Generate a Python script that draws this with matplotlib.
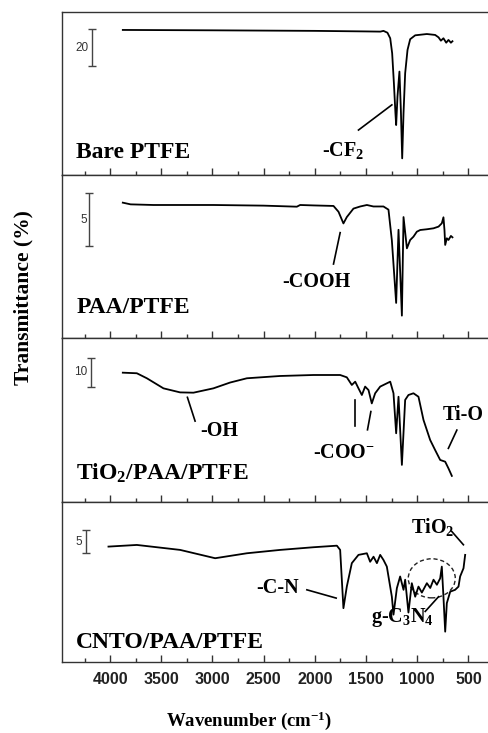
import matplotlib
matplotlib.use('Agg')
import matplotlib.pyplot as plt
from matplotlib.patches import Ellipse
from matplotlib.ticker import MultipleLocator

plt.rcParams['mathtext.fontset'] = 'custom'
plt.rcParams['mathtext.rm'] = 'Liberation Serif:bold'
plt.rcParams['mathtext.bf'] = 'Liberation Serif:bold'
plt.rcParams['mathtext.it'] = 'Liberation Serif:bold:italic'

# ---------------- data (wavenumber cm-1, transmittance %) ----------------
w1 = [3876, 3000, 2000, 1500, 1360, 1330, 1291, 1264, 1245, 1228, 1213, 1206, 1193, 1174,
      1160, 1147, 1134, 1118, 1095, 1069, 1020, 906, 825, 792, 769, 744, 717, 695, 671, 656]
t1 = [95.0, 94.8, 94.5, 94.2, 94.1, 94.5, 93.5, 90.5, 82.4, 66.2, 50.0, 43.6, 59.0, 72.5,
      51.8, 25.6, 50.0, 71.6, 84.2, 90.0, 92.1, 92.8, 92.3, 91.0, 89.2, 90.5, 88.1, 89.6, 88.1, 88.9]

w2 = [3876, 3800, 3577, 2991, 2502, 2176, 2144, 2014, 1818, 1769, 1721, 1688, 1623, 1557,
      1492, 1428, 1330, 1281, 1248, 1206, 1183, 1150, 1134, 1101, 1069, 1037, 1004, 971,
      906, 841, 792, 760, 744, 734, 727, 711, 695, 671, 656]
t2 = [100.06, 99.9, 99.84, 99.84, 99.78, 99.68, 99.84, 99.8, 99.75, 99.2, 98.1, 98.7, 99.5, 99.7,
      99.84, 99.7, 99.7, 99.4, 96.5, 90.6, 97.5, 89.4, 98.7, 95.75, 96.54, 96.85, 97.32, 97.48,
      97.55, 97.64, 97.8, 98.11, 98.68, 97.48, 96.07, 96.7, 96.54, 96.92, 96.79]

w3 = [3876, 3739, 3641, 3479, 3316, 3186, 2991, 2828, 2664, 2339, 2014, 1753, 1688, 1639,
      1606, 1574, 1541, 1509, 1476, 1444, 1411, 1362, 1264, 1232, 1206, 1183, 1150, 1118,
      1086, 1037, 988, 939, 874, 825, 776, 727, 695, 662]
t3 = [100.0, 99.8, 98.07, 94.6, 93.2, 93.1, 94.6, 96.6, 98.07, 98.86, 99.2, 99.2, 98.4, 95.76,
      96.9, 94.6, 92.3, 95.2, 94.0, 89.4, 92.9, 95.2, 96.9, 92.9, 79.1, 91.7, 68.2, 90.6,
      92.3, 92.9, 91.7, 83.7, 76.8, 73.3, 69.9, 69.3, 67.0, 64.4]

w4 = [4016, 3739, 3316, 2974, 2664, 2339, 2014, 1785, 1753, 1721, 1688, 1639, 1574, 1492,
      1460, 1427, 1394, 1362, 1330, 1297, 1248, 1232, 1199, 1167, 1134, 1118, 1086, 1053,
      1020, 988, 955, 906, 873, 841, 808, 776, 760, 744, 727, 711, 678, 630, 597, 581, 548, 532]
t4 = [100.0, 100.36, 99.28, 97.47, 98.55, 99.28, 99.86, 100.2, 99.28, 86.6, 91.3, 96.4, 98.2, 98.55,
      96.7, 97.8, 96.4, 98.2, 97.1, 95.65, 89.1, 85.2, 90.96, 93.5, 90.6, 92.8, 85.65, 92.04,
      89.1, 91.3, 90.0, 92.04, 91.0, 92.8, 91.7, 93.1, 95.65, 89.1, 81.5, 87.7, 90.2, 90.6, 91.3, 93.5, 95.3, 98.2]

waves = [w1, w2, w3, w4]
trans = [t1, t2, t3, t4]
sample_names = ['Bare PTFE', 'PAA/PTFE', r'TiO$_2$/PAA/PTFE', 'CNTO/PAA/PTFE']
scale_values = [20, 5, 10, 5]
scale_label_text = ['20', '5', '10', '5']
xtick_values = [4000, 3500, 3000, 2500, 2000, 1500, 1000, 500]

# ---------------- layout ----------------
W, H = 488, 733
fig = plt.figure(figsize=(W / 100, H / 100), dpi=100)

panel_px = [(12, 175), (175, 338), (338, 502), (502, 662)]
ylims = [(16.6, 104.7), (87.29, 102.67), (55.4, 111.96), (74.9, 109.7)]
left_px, right_px = 62, 493
xlim = (4470, 260)

# scale bar: (x position, top value) ; label x
scale_pos = [(4176, 95.5, 4274), (4205, 100.97, 4254), (4186, 105.07, 4283), (4234, 103.6, 4303)]
label_pos = [(4332, 25.8), (4332, 89.65), (4332, 63.0), (4332, 77.98)]

serif = 'Liberation Serif'
spine_col = '#333333'

axes = []
for i in range(4):
    top, bot = panel_px[i]
    ax = fig.add_axes([left_px / W, 1 - bot / H, (right_px - left_px) / W, (bot - top) / H])
    axes.append(ax)
    ax.plot(waves[i], trans[i], color='black', lw=1.3, solid_joinstyle='round')
    ax.set_xlim(*xlim)
    ax.set_ylim(*ylims[i])
    ax.set_yticks([])
    ax.xaxis.set_major_locator(MultipleLocator(500))
    ax.xaxis.set_minor_locator(MultipleLocator(250))
    ax.tick_params(axis='x', which='major', direction='in', length=5, width=1, color=spine_col, pad=7)
    ax.tick_params(axis='x', which='minor', direction='in', length=3, width=1, color=spine_col)
    for s in ax.spines.values():
        s.set_color(spine_col)
        s.set_linewidth(1.0)
    if i < 3:
        ax.tick_params(axis='x', labelbottom=False)
    else:
        ax.set_xticks(xtick_values)
        ax.set_xticklabels([str(v) for v in xtick_values], fontfamily='Liberation Sans',
                           fontweight='bold', fontsize=11.5, color='#222222')
    # scale bar
    sx, stop, lx = scale_pos[i]
    sv = scale_values[i]
    ax.errorbar([sx], [stop - sv / 2], yerr=[[sv / 2], [sv / 2]], fmt='none', ecolor='#444444',
                elinewidth=1, capsize=3, capthick=1)
    ax.text(lx, stop - sv / 2, scale_label_text[i], ha='center', va='center',
            fontfamily='Liberation Sans', fontsize=8.5, color='#333333')
    # sample label
    ax.text(label_pos[i][0], label_pos[i][1], sample_names[i], ha='left', va='baseline',
            fontfamily=serif, fontweight='bold', fontsize=17)

ann = dict(fontfamily=serif, fontweight='bold', fontsize=14.5, va='baseline', ha='center')
lk = dict(color='black', lw=1.2)

# panel 1
a = axes[0]
a.text(1724, 26.9, r'-CF$_2$', **ann)
a.plot([1574, 1248], [40.9, 54.5], **lk)

# panel 2
a = axes[1]
a.text(1981, 92.13, '-COOH', **ann)
a.plot([1818, 1753], [94.27, 97.23], **lk)

# panel 3
a = axes[2]
a.text(2935, 78.2, '-OH', **ann)
a.plot([3245, 3170], [91.5, 83.3], **lk)
a.text(1714, 70.5, r'-COO$^{-}$', **ann)
a.plot([1606, 1606], [90.6, 81.6], **lk)
a.plot([1453, 1486], [86.6, 80.3], **lk)
a.text(551, 83.7, 'Ti-O', **ann)
a.plot([613, 696], [80.2, 73.9], **lk)

# panel 4
a = axes[3]
a.text(2364, 89.87, '-C-N', **ann)
a.plot([2078, 1792], [90.6, 88.8], **lk)
a.text(1150, 83.7, r'g-C$_3$N$_4$', **ann)
a.plot([922, 792], [85.9, 89.1], **lk)
a.text(854, 102.98, r'TiO$_2$', **ann)
a.plot([663, 549], [103.3, 100.4], **lk)
a.add_patch(Ellipse((858, 93.1), 459, 8.5, fill=False, ls=(0, (3, 2)), lw=1.0, color='#222222'))

# axis labels
fig.text(23 / W, 1 - 298 / H, 'Transmittance (%)', rotation=90, ha='center', va='center',
         fontfamily=serif, fontweight='bold', fontsize=15.5)
fig.text(249 / W, 1 - 721 / H, r'Wavenumber (cm$^{-1}$)', ha='center', va='center',
         fontfamily=serif, fontweight='bold', fontsize=13.5)

fig.savefig('out.png', dpi=100)
